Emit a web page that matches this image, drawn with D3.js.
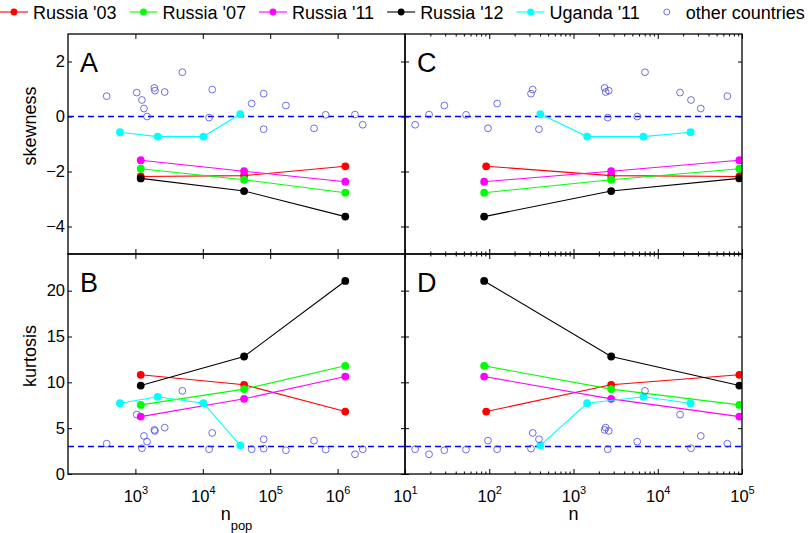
<!DOCTYPE html>
<html>
<head>
<meta charset="utf-8">
<script src="https://cdn.jsdelivr.net/npm/d3@7"></script>
<style>
  body { margin: 0; background: #fff; }
  svg { display: block; font-family: "Liberation Sans", Arial, sans-serif; }
</style>
</head>
<body>
<div id="chart"></div>
<script>
// series
const seriesNames = ["Russia '03", "Russia '07", "Russia '11", "Russia '12", "Uganda '11"];
const seriesColors = ["#ff0000", "#00ff00", "#ff00ff", "#000000", "#00ffff"];

const russiaNpop = [1200, 41000, 1300000];
const russiaN = [93000, 2800, 87];
const russia03N = [93000, 2800, 92];
const ugandaNpop = [590, 2140, 10200, 36000];
const ugandaN = [24500, 6750, 1450, 404];

const skewRu03 = [-2.18, -2.15, -1.81];
const skewRu07 = [-1.90, -2.30, -2.77];
const skewRu11 = [-1.59, -1.99, -2.37];
const skewRu12 = [-2.25, -2.71, -3.64];
const skewUg11 = [-0.57, -0.73, -0.73, 0.09];

const kurtRu03 = [10.82, 9.73, 6.81];
const kurtRu07 = [7.54, 9.26, 11.80];
const kurtRu11 = [6.26, 8.20, 10.63];
const kurtRu12 = [9.65, 12.82, 21.06];
const kurtUg11 = [7.72, 8.42, 7.72, 3.13];

// other countries
const otherNpop = [375, 1045, 1250, 1340, 1490, 1910, 1950, 2720, 4970, 12400,
  13800, 53100, 80000, 80000, 171000, 447000, 665000, 1810000, 2360000];
const otherN = [67000, 18400, 24800, 32400, 5710, 2340, 2620, 2410, 7060, 2550,
  328, 124, 313, 389, 29.3, 96.6, 53, 19.3, 13.2];
const otherSkew = [0.74, 0.87, 0.60, 0.29, 0.00, 1.04, 0.94, 0.89, 1.61, -0.04,
  0.98, 0.47, 0.83, -0.46, 0.40, -0.43, 0.06, 0.07, -0.30];
const otherKurt = [3.31, 6.48, 2.81, 4.15, 3.53, 4.81, 4.70, 5.06, 9.07, 2.70,
  4.48, 2.70, 2.77, 3.79, 2.59, 3.64, 2.66, 2.15, 2.70];

const skewTicks = [-4, -2, 0, 2];
const kurtTicks = [0, 5, 10, 15, 20];
const npopTicks = [1e3, 1e4, 1e5, 1e6];
const nTicks = [1e1, 1e2, 1e3, 1e4, 1e5];

const series = [
  { npop: russiaNpop, n: russia03N, skew: skewRu03, kurt: kurtRu03 },
  { npop: russiaNpop, n: russiaN, skew: skewRu07, kurt: kurtRu07 },
  { npop: russiaNpop, n: russiaN, skew: skewRu11, kurt: kurtRu11 },
  { npop: russiaNpop, n: russiaN, skew: skewRu12, kurt: kurtRu12 },
  { npop: ugandaNpop, n: ugandaN, skew: skewUg11, kurt: kurtUg11 }
].map((s, i) => ({ ...s, name: seriesNames[i], color: seriesColors[i] }));

const others = otherNpop.map((d, i) => ({ npop: d, n: otherN[i], skew: otherSkew[i], kurt: otherKurt[i] }));

const W = 810, H = 533;
const svg = d3.select("#chart").append("svg").attr("width", W).attr("height", H);

const xPop = d3.scaleLog().domain([1e2, 1e7]).range([68, 405]);
const xN = d3.scaleLog().domain([1e1, 1e5]).range([405, 742]);
const ySkew = d3.scaleLinear().domain([-5, 3]).range([254, 34]);
const yKurt = d3.scaleLinear().domain([0, 24]).range([474, 254]);

const panels = [
  { label: "A", x: xPop, y: ySkew, xkey: "npop", ykey: "skew", ref: 0, yticks: skewTicks, xticks: npopTicks, left: true, bottom: false },
  { label: "B", x: xPop, y: yKurt, xkey: "npop", ykey: "kurt", ref: 3, yticks: kurtTicks, xticks: npopTicks, left: true, bottom: true },
  { label: "C", x: xN, y: ySkew, xkey: "n", ykey: "skew", ref: 0, yticks: skewTicks, xticks: nTicks, left: false, bottom: false },
  { label: "D", x: xN, y: yKurt, xkey: "n", ykey: "kurt", ref: 3, yticks: kurtTicks, xticks: nTicks, left: false, bottom: true }
];

const supLabel = (sel) => {
  sel.selectAll(".tick text").each(function(d) {
    const t = d3.select(this);
    t.text(null).attr("y", 28).attr("dy", null)
      .style("font-size", "16.5px").attr("fill", "#000");
    t.append("tspan").text("10");
    t.append("tspan").attr("dy", -8).style("font-size", "11px").text(Math.round(Math.log10(d)));
  });
};

panels.forEach(p => {
  const [x0, x1] = p.x.range();
  const [y0, y1] = p.y.range(); // y0 bottom, y1 top
  const g = svg.append("g");

  const clipId = "clip" + p.label;
  svg.append("clipPath").attr("id", clipId)
    .append("rect").attr("x", x0).attr("y", y1).attr("width", x1 - x0).attr("height", y0 - y1);

  // minor ticks on the n axes
  if (p.x === xN) {
    const minors = [];
    d3.range(1, 5).forEach(e => d3.range(2, 10).forEach(m => minors.push(m * Math.pow(10, e))));
    g.append("g").attr("transform", `translate(0,${y0})`)
      .call(d3.axisBottom(p.x).tickValues(minors).tickSize(-2.5).tickFormat(""))
      .call(a => a.select(".domain").remove());
    g.append("g").attr("transform", `translate(0,${y1})`)
      .call(d3.axisTop(p.x).tickValues(minors).tickSize(-2.5).tickFormat(""))
      .call(a => a.select(".domain").remove());
  }

  // major x ticks, top & bottom, pointing inward
  const xb = g.append("g").attr("transform", `translate(0,${y0})`)
    .call(d3.axisBottom(p.x).tickValues(p.xticks).tickSize(-5).tickPadding(0))
    .call(a => a.select(".domain").remove());
  if (p.bottom) supLabel(xb); else xb.selectAll(".tick text").remove();

  g.append("g").attr("transform", `translate(0,${y1})`)
    .call(d3.axisTop(p.x).tickValues(p.xticks).tickSize(-5).tickFormat(""))
    .call(a => a.select(".domain").remove());

  // y ticks, left & right
  const yl = g.append("g").attr("transform", `translate(${x0},0)`)
    .call(d3.axisLeft(p.y).tickValues(p.yticks).tickSize(-4).tickPadding(3))
    .call(a => a.select(".domain").remove());
  if (p.left) yl.selectAll(".tick text").style("font-size", "16.5px").attr("fill", "#000");
  else yl.selectAll(".tick text").remove();

  g.append("g").attr("transform", `translate(${x1},0)`)
    .call(d3.axisRight(p.y).tickValues(p.yticks).tickSize(-4).tickFormat(""))
    .call(a => a.select(".domain").remove());

  g.selectAll(".tick line").attr("stroke", "#000").attr("stroke-width", 1);

  const plot = svg.append("g").attr("clip-path", `url(#${clipId})`);

  // reference line (normal distribution value)
  plot.append("line")
    .attr("x1", x0).attr("x2", x1)
    .attr("y1", p.y(p.ref)).attr("y2", p.y(p.ref))
    .attr("stroke", "#0000ff").attr("stroke-width", 1.3)
    .attr("stroke-dasharray", "6,4");

  const line = d3.line().x(d => p.x(d[0])).y(d => p.y(d[1]));

  series.forEach(s => {
    const pts = s[p.xkey].map((v, i) => [v, s[p.ykey][i]]);
    plot.append("path")
      .attr("d", line(pts))
      .attr("fill", "none")
      .attr("stroke", s.color)
      .attr("stroke-width", 1.1);
    plot.selectAll(null)
      .data(pts)
      .enter()
      .append("circle")
        .attr("cx", d => p.x(d[0]))
        .attr("cy", d => p.y(d[1]))
        .attr("r", 3.9)
        .attr("fill", s.color);
  });

  plot.selectAll(null)
    .data(others)
    .enter()
    .append("circle")
      .attr("cx", d => p.x(d[p.xkey]))
      .attr("cy", d => p.y(d[p.ykey]))
      .attr("r", 3.4)
      .attr("fill", "none")
      .attr("stroke", "#4a4ae0")
      .attr("stroke-width", 0.8);

  // panel letter
  svg.append("text")
    .attr("x", x0 + 12)
    .attr("y", y1 + 38)
    .style("font-size", "27px")
    .text(p.label);

  // frame
  svg.append("rect")
    .attr("x", x0).attr("y", y1)
    .attr("width", x1 - x0).attr("height", y0 - y1)
    .attr("fill", "none")
    .attr("stroke", "#000")
    .attr("stroke-width", 1.3);
});

// axis titles
svg.append("text")
  .attr("transform", "translate(36,126) rotate(-90)")
  .attr("text-anchor", "middle")
  .style("font-size", "18px")
  .text("skewness");

svg.append("text")
  .attr("transform", "translate(36,356) rotate(-90)")
  .attr("text-anchor", "middle")
  .style("font-size", "18px")
  .text("kurtosis");

const npopLabel = svg.append("text")
  .attr("x", 236.5).attr("y", 520)
  .attr("text-anchor", "middle")
  .style("font-size", "18px");
npopLabel.append("tspan").text("n");
npopLabel.append("tspan").attr("dy", 10).style("font-size", "13px").text("pop");

svg.append("text")
  .attr("x", 573.5).attr("y", 520)
  .attr("text-anchor", "middle")
  .style("font-size", "18px")
  .text("n");

// legend across the top
const legend = svg.append("g");
let lx = 0;
const legendItems = series.map(s => ({ name: s.name, color: s.color, open: false }))
  .concat([{ name: "other countries", color: "#4a4ae0", open: true }]);

legendItems.forEach(item => {
  const it = legend.append("g");
  if (!item.open) {
    it.append("line")
      .attr("x1", lx).attr("x2", lx + 28)
      .attr("y1", 12).attr("y2", 12)
      .attr("stroke", item.color).attr("stroke-width", 1.1);
    it.append("circle")
      .attr("cx", lx + 14).attr("cy", 12).attr("r", 3.4)
      .attr("fill", item.color);
  } else {
    it.append("circle")
      .attr("cx", lx + 14).attr("cy", 12).attr("r", 3)
      .attr("fill", "none").attr("stroke", item.color).attr("stroke-width", 0.8);
  }
  const t = it.append("text")
    .attr("x", lx + 33).attr("y", 19)
    .style("font-size", "18px")
    .text(item.name);
  lx += 33 + t.node().getComputedTextLength() + 13;
});
</script>
</body>
</html>
